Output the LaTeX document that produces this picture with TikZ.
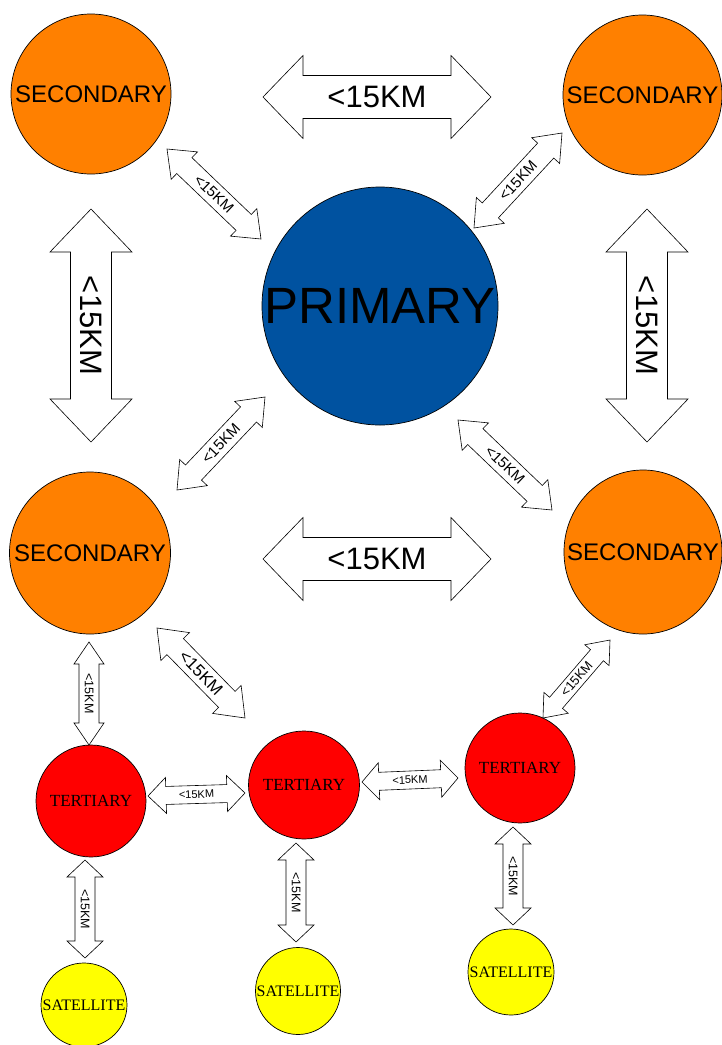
\documentclass[tikz,border=0pt]{standalone}
\usepackage{fontspec}
\setmainfont{Liberation Sans}
\newfontfamily\serifx{Liberation Serif}
\usetikzlibrary{calc,shapes.geometric}
\definecolor{orng}{RGB}{255,128,0}
\definecolor{prim}{RGB}{0,82,160}
\definecolor{tred}{RGB}{255,0,0}
\definecolor{syel}{RGB}{255,255,0}
\tikzset{
  hub/.style={draw, ellipse, inner sep=0pt, line width=0.7pt},
  sec/.style={hub, fill=orng, font=\fontsize{24}{24}\selectfont},
  prm/.style={hub, fill=prim, font=\fontsize{51}{51}\selectfont},
  ter/.style={hub, fill=tred, font=\serifx\fontsize{17}{17}\selectfont},
  sat/.style={hub, fill=syel, font=\serifx\fontsize{16}{16}\selectfont},
  arrowbox/.style={draw, fill=white, line width=0.6pt, line join=miter},
  lbl/.style={sloped, inner sep=0pt}
}
\newcommand\zw[1]{\makebox[0pt]{#1}}
% #1 from, #2 to, #3 shaft half width, #4 head half width, #5 head length, #6 font size, #7 label name
\newcommand\dblarr[7]{%
  \draw[arrowbox] (#1)
    -- ($(#1)!#5!(#2)!#4!90:(#2)$) -- ($(#1)!#5!(#2)!#3!90:(#2)$)
    -- ($(#2)!#5!(#1)!#3!-90:(#1)$) -- ($(#2)!#5!(#1)!#4!-90:(#1)$)
    -- (#2)
    -- ($(#2)!#5!(#1)!#4!90:(#1)$) -- ($(#2)!#5!(#1)!#3!90:(#1)$)
    -- ($(#1)!#5!(#2)!#3!-90:(#2)$) -- ($(#1)!#5!(#2)!#4!-90:(#2)$)
    -- cycle;
  \path (#1) -- node[lbl, font=\fontsize{#6}{#6}\selectfont] (#7) {<15KM} (#2);
}
\begin{document}
\begin{tikzpicture}[x=1pt, y=-1pt]
\useasboundingbox (0,0) rectangle (722,1045);
% hubs
\node[sec, minimum width=160pt, minimum height=160pt] (s1) at (91,94) {\zw{SECONDARY}};
\node[sec, minimum width=159pt, minimum height=160pt] (s2) at (642.5,95) {\zw{SECONDARY}};
\node[prm, minimum width=236pt, minimum height=238pt] (p) at (380,306) {\zw{PRIMARY}};
\node[sec, minimum width=161pt, minimum height=162pt] (s3) at (90,553) {\zw{SECONDARY}};
\node[sec, minimum width=158pt, minimum height=164pt] (s4) at (643,552) {\zw{SECONDARY}};
\node[ter, minimum width=110pt, minimum height=112pt] (t1) at (91,801) {\zw{TERTIARY}};
\node[ter, minimum width=111pt, minimum height=108pt] (t2) at (304,785) {\zw{TERTIARY}};
\node[ter, minimum width=110pt, minimum height=110pt] (t3) at (520,768) {\zw{TERTIARY}};
\node[sat, minimum width=86pt, minimum height=84pt] (sat1) at (84,1005) {\zw{SATELLITE}};
\node[sat, minimum width=85pt, minimum height=87pt] (sat2) at (298,991) {\zw{SATELLITE}};
\node[sat, minimum width=86pt, minimum height=86pt] (sat3) at (511,972) {\zw{SATELLITE}};
% connector end points
\coordinate (a1a) at (263,97);   \coordinate (a1b) at (491,97);
\coordinate (a2a) at (91,209);   \coordinate (a2b) at (91.01,442);
\coordinate (a3a) at (647,209);  \coordinate (a3b) at (647.01,442);
\coordinate (a4a) at (263,559);  \coordinate (a4b) at (491,559);
\coordinate (d1a) at (167,149);  \coordinate (d1b) at (261,239);
\coordinate (d2a) at (474,228);  \coordinate (d2b) at (562,133);
\coordinate (d3a) at (177,490);  \coordinate (d3b) at (265,397);
\coordinate (d4a) at (458,420);  \coordinate (d4b) at (552,510);
\coordinate (d5a) at (157,628);  \coordinate (d5b) at (245,718);
\coordinate (d6a) at (543,718);  \coordinate (d6b) at (610,640);
\coordinate (v1a) at (89,642);   \coordinate (v1b) at (89.01,745);
\coordinate (v2a) at (85,860);   \coordinate (v2b) at (85.01,958);
\coordinate (v3a) at (296,843);  \coordinate (v3b) at (296.01,942);
\coordinate (v4a) at (513,827);  \coordinate (v4b) at (513.01,925);
\coordinate (h1a) at (148,796);  \coordinate (h1b) at (245,793);
\coordinate (h2a) at (362,782);  \coordinate (h2b) at (458,778);
% connectors
\dblarr{a1a}{a1b}{21.5pt}{41.5pt}{40pt}{31}{la1}
\dblarr{a2a}{a2b}{20.5pt}{41pt}{43pt}{31}{la2}
\dblarr{a3a}{a3b}{20.5pt}{41pt}{43pt}{31}{la3}
\dblarr{a4a}{a4b}{21.5pt}{41.5pt}{40pt}{31}{la4}
\dblarr{d1a}{d1b}{11pt}{19pt}{24pt}{15}{ld1}
\dblarr{d2a}{d2b}{11pt}{19pt}{24pt}{15}{ld2}
\dblarr{d3a}{d3b}{11pt}{19pt}{24pt}{15}{ld3}
\dblarr{d4a}{d4b}{11pt}{19pt}{24pt}{15}{ld4}
\dblarr{d5a}{d5b}{11.5pt}{20pt}{26pt}{17}{ld5}
\dblarr{d6a}{d6b}{8.5pt}{16pt}{20pt}{13}{ld6}
\dblarr{v1a}{v1b}{10pt}{15pt}{22pt}{12.5}{lv1}
\dblarr{v2a}{v2b}{10pt}{18pt}{17pt}{12.5}{lv2}
\dblarr{v3a}{v3b}{10pt}{18pt}{17pt}{12.5}{lv3}
\dblarr{v4a}{v4b}{10pt}{18pt}{17pt}{12.5}{lv4}
\dblarr{h1a}{h1b}{9pt}{18pt}{18pt}{11}{lh1}
\dblarr{h2a}{h2b}{9pt}{18.5pt}{17pt}{11}{lh2}
\end{tikzpicture}
\end{document}
